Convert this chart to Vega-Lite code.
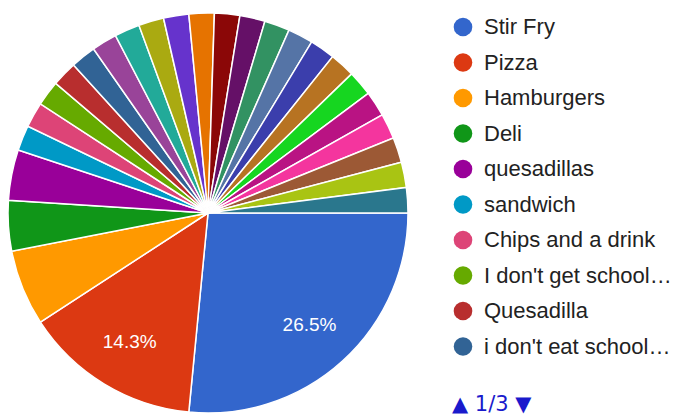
{
  "$schema": "https://vega.github.io/schema/vega-lite/v6.json",
  "width": 416,
  "height": 426,
  "padding": 0,
  "autosize": {"type": "pad"},
  "background": "white",
  "config": {"view": {"stroke": null}, "font": "Liberation Sans"},
  "data": {
    "values": [
      {"food": "Stir Fry", "count": 13, "order": 1, "label": "26.5%"},
      {"food": "Pizza", "count": 7, "order": 2, "label": "14.3%"},
      {"food": "Hamburgers", "count": 3, "order": 3, "label": ""},
      {"food": "Deli", "count": 2, "order": 4, "label": ""},
      {"food": "quesadillas", "count": 2, "order": 5, "label": ""},
      {"food": "sandwich", "count": 1, "order": 6, "label": ""},
      {"food": "Chips and a drink", "count": 1, "order": 7, "label": ""},
      {"food": "I don't get school lunch", "count": 1, "order": 8, "label": ""},
      {"food": "Quesadilla", "count": 1, "order": 9, "label": ""},
      {"food": "i don't eat school lunch", "count": 1, "order": 10, "label": ""},
      {"food": "Chicken nuggets", "count": 1, "order": 11, "label": ""},
      {"food": "Tacos", "count": 1, "order": 12, "label": ""},
      {"food": "Salad", "count": 1, "order": 13, "label": ""},
      {"food": "Pasta", "count": 1, "order": 14, "label": ""},
      {"food": "Burritos", "count": 1, "order": 15, "label": ""},
      {"food": "Chicken sandwich", "count": 1, "order": 16, "label": ""},
      {"food": "Hot dogs", "count": 1, "order": 17, "label": ""},
      {"food": "Nachos", "count": 1, "order": 18, "label": ""},
      {"food": "Fries", "count": 1, "order": 19, "label": ""},
      {"food": "Spaghetti", "count": 1, "order": 20, "label": ""},
      {"food": "Soup", "count": 1, "order": 21, "label": ""},
      {"food": "Mac and cheese", "count": 1, "order": 22, "label": ""},
      {"food": "Corn dogs", "count": 1, "order": 23, "label": ""},
      {"food": "Fruit", "count": 1, "order": 24, "label": ""},
      {"food": "Chicken", "count": 1, "order": 25, "label": ""},
      {"food": "Pretzels", "count": 1, "order": 26, "label": ""},
      {"food": "Nothing", "count": 1, "order": 27, "label": ""}
    ]
  },
  "encoding": {
    "theta": {"field": "count", "type": "quantitative", "stack": true, "scale": {"range": [1.5707963, 7.8539816]}},
    "order": {"field": "order", "type": "quantitative", "sort": "ascending"}
  },
  "layer": [
    {
      "mark": {"type": "arc", "outerRadius": 200, "stroke": "white", "strokeWidth": 1.5},
      "encoding": {
        "color": {
          "field": "food",
          "type": "nominal",
          "sort": null,
          "scale": {
            "domain": ["Stir Fry", "Pizza", "Hamburgers", "Deli", "quesadillas", "sandwich", "Chips and a drink", "I don't get school lunch", "Quesadilla", "i don't eat school lunch", "Chicken nuggets", "Tacos", "Salad", "Pasta", "Burritos", "Chicken sandwich", "Hot dogs", "Nachos", "Fries", "Spaghetti", "Soup", "Mac and cheese", "Corn dogs", "Fruit", "Chicken", "Pretzels", "Nothing"],
            "range": ["#3366CC", "#DC3912", "#FF9900", "#109618", "#990099", "#0099C6", "#DD4477", "#66AA00", "#B82E2E", "#316395", "#994499", "#22AA99", "#AAAA11", "#6633CC", "#E67300", "#8B0707", "#651067", "#329262", "#5574A6", "#3B3EAC", "#B77322", "#16D620", "#B91383", "#F4359E", "#9C5935", "#A9C413", "#2A778D"]
          },
          "legend": {
            "values": ["Stir Fry", "Pizza", "Hamburgers", "Deli", "quesadillas", "sandwich", "Chips and a drink", "I don't get school lunch", "Quesadilla", "i don't eat school lunch"],
            "orient": "none",
            "legendX": 452,
            "legendY": 16,
            "title": "▲ 1/3 ▼",
            "titleOrient": "bottom",
            "titleFont": "DejaVu Sans",
            "titleColor": "#1a1acc",
            "titleFontSize": 21,
            "titleFontWeight": "normal",
            "titlePadding": 36,
            "symbolType": "circle",
            "symbolSize": 346,
            "symbolStrokeWidth": 0,
            "labelFontSize": 22,
            "labelColor": "#222222",
            "labelOffset": 10,
            "labelLimit": 188,
            "rowPadding": 13.5
          }
        }
      }
    },
    {
      "mark": {"type": "text", "radius": 151, "fontSize": 19, "color": "white"},
      "encoding": {"text": {"field": "label"}}
    }
  ]
}
